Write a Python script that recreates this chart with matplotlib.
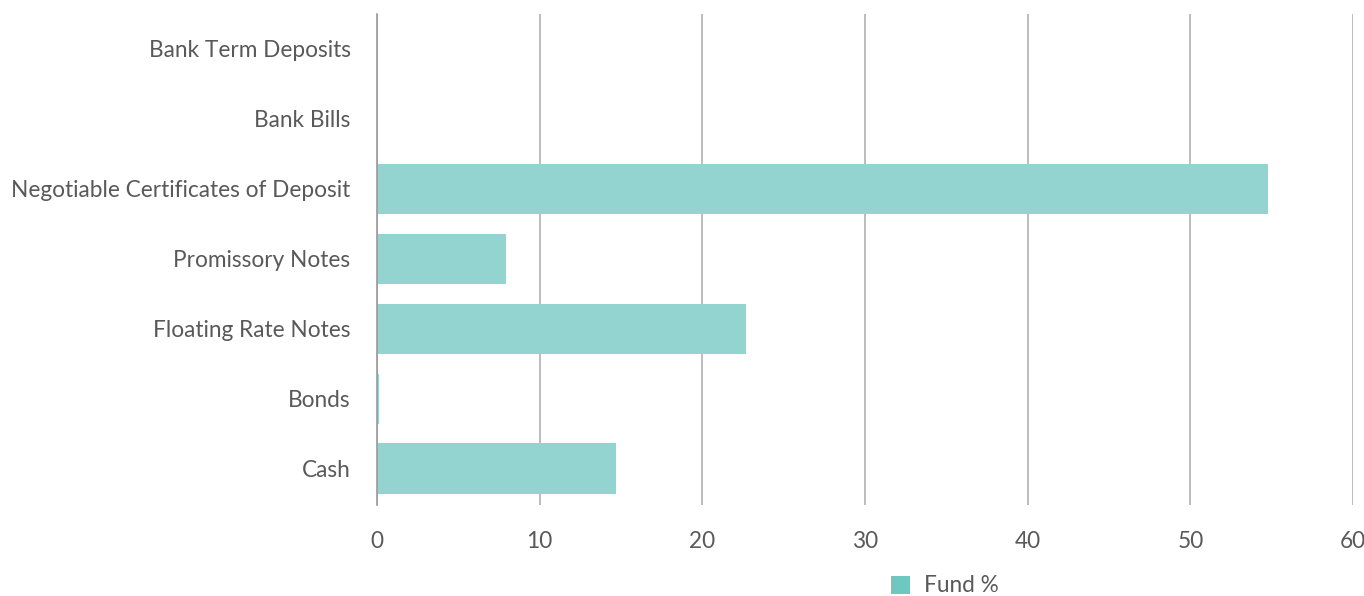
import matplotlib.pyplot as plt
from matplotlib.patches import Patch

# Data
categories = ["Bank Term Deposits", "Bank Bills", "Negotiable Certificates of Deposit",
              "Promissory Notes", "Floating Rate Notes", "Bonds", "Cash"]
fund_pct = [0.0, 0.0, 54.8, 7.9, 22.7, 0.1, 14.7]
x_ticks = [0, 10, 20, 30, 40, 50, 60]


def main():
    plt.rcParams['font.family'] = ['Lato', 'DejaVu Sans']
    text_color = '#595959'

    fig = plt.figure(figsize=(13.64, 5.96), dpi=100)
    ax = fig.add_axes([377 / 1364, 1 - 505 / 596, (1353 - 377) / 1364, (505 - 14) / 596])

    y = list(range(len(categories)))
    ax.barh(y, fund_pct, height=0.72, color='#93d4d1', zorder=3)

    ax.set_xlim(0, 60)
    ax.set_ylim(6.52, -0.5)
    ax.set_xticks(x_ticks)
    ax.set_yticks(y)
    ax.set_yticklabels(categories)

    ax.grid(axis='x', color='#b0b0b0', linewidth=1.2, zorder=0)
    for side in ['top', 'right', 'bottom']:
        ax.spines[side].set_visible(False)
    ax.spines['left'].set_color('#999999')
    ax.spines['left'].set_linewidth(1.2)
    ax.spines['left'].set_zorder(4)

    ax.tick_params(axis='both', length=0, labelsize=16.3, labelcolor=text_color)
    ax.tick_params(axis='y', pad=19)
    ax.tick_params(axis='x', pad=19)

    handle = Patch(facecolor='#6cc8c1', edgecolor='none')
    fig.legend([handle], ['Fund %'], loc='center', bbox_to_anchor=(945 / 1364, 1 - 586 / 596),
               frameon=False, fontsize=16.3, labelcolor=text_color,
               handlelength=0.85, handleheight=0.85, handletextpad=0.6)

    fig.savefig('out.png', dpi=100)


if __name__ == "__main__":
    main()
